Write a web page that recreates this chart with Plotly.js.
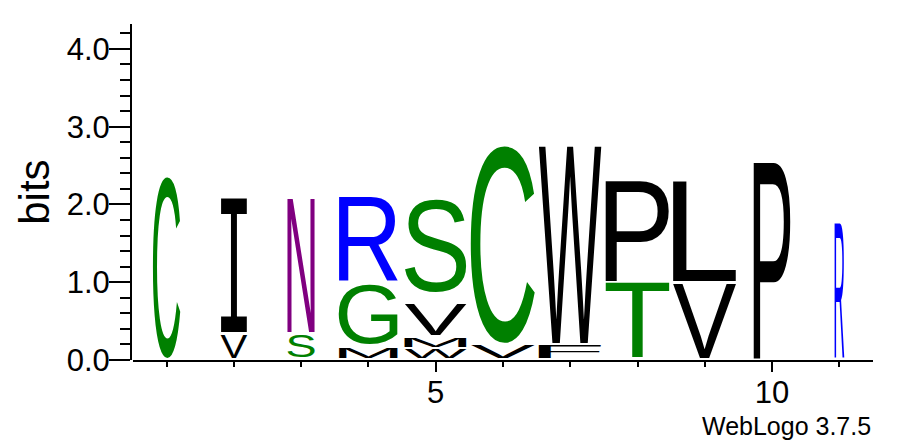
<!DOCTYPE html>
<html>
<head>
<meta charset="utf-8">
<script src="https://cdn.plot.ly/plotly-3.0.1.min.js"></script>
<style>
  html, body { margin: 0; padding: 0; background: #fff; }
  #logo { width: 897px; height: 444px; }
</style>
</head>
<body>
<div id="logo"></div>
<script>
// Sequence logo (WebLogo style). Each letter is a Plotly text point that is
// stretched afterwards to fill its bit range, using the axes' own l2p scales.

const FONT = '"Liberation Sans", Arial, Helvetica, sans-serif';
const SERIF_I_FONT = '"Liberation Mono", monospace'; // WebLogo's I has bars top and bottom
const GLYPH_SIZE = 100;

// one entry per drawn letter, bottom to top inside each column
const positions  = [1, 2, 2, 3, 3, 4, 4, 4, 5, 5, 5, 5, 6, 6, 7, 7, 8, 8, 9, 9, 10, 11];
const letters    = ['C', 'V', 'I', 'S', 'N', 'M', 'G', 'R', 'W', 'M', 'V', 'S', 'V', 'C', 'F', 'W', 'T', 'P', 'V', 'L', 'P', 'R'];
const bottomBits = [0.02, 0.03, 0.36, 0.04, 0.36, 0.02, 0.21, 1.01, 0.02, 0.17, 0.32, 0.87, 0.02, 0.22, 0.02, 0.22, 0.02, 1.01, 0.02, 1.01, 0.02, 0.02];
const topBits    = [2.35, 0.33, 2.07, 0.33, 2.07, 0.15, 0.97, 2.09, 0.14, 0.29, 0.72, 2.08, 0.18, 2.75, 0.18, 2.75, 0.98, 2.30, 0.98, 2.30, 2.54, 1.77];

// stack width per column (columns with many gaps are narrower), positions 1..11
const columnWidth = [0.41, 0.40, 0.41, 0.88, 0.93, 0.96, 0.94, 0.95, 0.95, 0.55, 0.145];

const yTickVals = [0, 1, 2, 3, 4];
const xTickVals = [5, 10];

// chemistry colour scheme
const CHEM = {
  G: '#008000', S: '#008000', T: '#008000', Y: '#008000', C: '#008000',
  N: '#800080', Q: '#800080',
  K: '#0000ff', R: '#0000ff', H: '#0000ff',
  D: '#ff0000', E: '#ff0000',
};
const colorOf = (l) => CHEM[l] || '#000000';
const fontOf = (l) => (l === 'I' ? SERIF_I_FONT : FONT);

const trace = {
  type: 'scatter',
  mode: 'text',
  x: positions,
  y: letters.map((_, i) => (bottomBits[i] + topBits[i]) / 2),
  text: letters,
  textposition: 'middle center',
  textfont: { family: letters.map(fontOf), size: GLYPH_SIZE, color: letters.map(colorOf) },
  cliponaxis: false,
  hoverinfo: 'skip',
  showlegend: false,
};

const axisFont = { family: FONT, size: 31, color: '#000' };

const layout = {
  width: 897,
  height: 444,
  margin: { l: 131, r: 24, t: 24, b: 84 },
  paper_bgcolor: '#fff',
  plot_bgcolor: '#fff',
  showlegend: false,
  xaxis: {
    domain: [2 / 742, 1],
    range: [0.5, 11.5],
    showgrid: false, zeroline: false,
    showline: true, linecolor: '#000', linewidth: 2,
    ticks: 'outside', ticklen: 10, tickwidth: 2, tickcolor: '#000',
    tickvals: xTickVals,
    ticktext: xTickVals.map(String),
    tickfont: axisFont,
    ticklabelstandoff: -6,
    minor: { dtick: 1, tick0: 0, ticks: 'outside', ticklen: 5, tickwidth: 2, tickcolor: '#000', showgrid: false },
    fixedrange: true,
  },
  yaxis: {
    anchor: 'free', position: 0,
    range: [0, 4.32],
    showgrid: false, zeroline: false,
    showline: true, linecolor: '#000', linewidth: 2,
    ticks: 'outside', ticklen: 21, tickwidth: 2, tickcolor: '#000',
    tickvals: yTickVals,
    ticktext: yTickVals.map((v) => v.toFixed(1)),
    tickfont: axisFont,
    ticklabelstandoff: -7,
    minor: { dtick: 0.2, tick0: 0, ticks: 'outside', ticklen: 10, tickwidth: 2, tickcolor: '#000', showgrid: false },
    fixedrange: true,
  },
  annotations: [
    {
      // y-axis label
      xref: 'paper', yref: 'paper', x: -0.131, y: 0.5,
      xanchor: 'center', yanchor: 'middle', textangle: -90,
      text: 'bits', showarrow: false,
      font: { family: FONT, size: 42, color: '#000' },
    },
    {
      xref: 'paper', yref: 'paper', x: 1, y: -0.245,
      xanchor: 'right', yanchor: 'bottom',
      text: 'WebLogo 3.7.5', showarrow: false,
      font: { family: FONT, size: 25, color: '#000' },
    },
  ],
};

// stretch every glyph's ink box onto [pos ± width/2] x [bottom, top]
function stretchGlyphs(gd) {
  const xa = gd._fullLayout.xaxis;
  const ya = gd._fullLayout.yaxis;
  const ctx = document.createElement('canvas').getContext('2d');
  const nodes = gd.querySelectorAll('.scatterlayer g.textpoint');
  nodes.forEach((g, i) => {
    const t = g.querySelector('text');
    if (!t || i >= letters.length) return;
    ctx.font = `${GLYPH_SIZE}px ${fontOf(letters[i])}`;
    const m = ctx.measureText(letters[i]);
    const inkW = m.actualBoundingBoxLeft + m.actualBoundingBoxRight;
    const inkH = m.actualBoundingBoxAscent + m.actualBoundingBoxDescent;
    const half = columnWidth[positions[i] - 1] / 2;
    const x0 = xa.l2p(positions[i] - half);
    const x1 = xa.l2p(positions[i] + half);
    const yTop = ya.l2p(topBits[i]);
    const yBot = ya.l2p(bottomBits[i]);
    const sx = (x1 - x0) / inkW;
    const sy = (yBot - yTop) / inkH;
    const tx = x0 + m.actualBoundingBoxLeft * sx;
    const ty = yTop + m.actualBoundingBoxAscent * sy;
    g.removeAttribute('transform');
    t.setAttribute('x', 0);
    t.setAttribute('y', 0);
    t.setAttribute('text-anchor', 'start');
    t.setAttribute('transform', `translate(${tx},${ty}) scale(${sx},${sy})`);
  });
}

const gd = document.getElementById('logo');
Plotly.newPlot(gd, [trace], layout, { displayModeBar: false, staticPlot: true }).then(() => {
  stretchGlyphs(gd);
  gd.on('plotly_afterplot', () => stretchGlyphs(gd));
});
</script>
</body>
</html>
